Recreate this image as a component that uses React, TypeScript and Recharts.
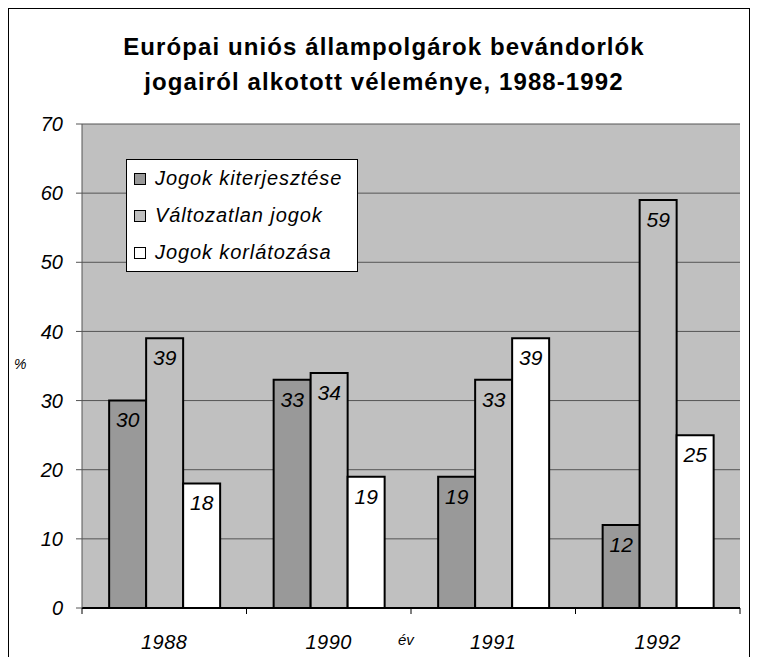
import { BarChart, Bar, XAxis, YAxis, CartesianGrid, Legend, LabelList } from "recharts";

const years = ["1988", "1990", "1991", "1992"];
const kiterjesztes = [30, 33, 19, 12];
const valtozatlan = [39, 34, 33, 59];
const korlatozas = [18, 19, 39, 25];
const yTicks = [0, 10, 20, 30, 40, 50, 60, 70];

const series = [
  { key: "kiterjesztes", name: "Jogok kiterjesztése", fill: "#999999" },
  { key: "valtozatlan", name: "Változatlan jogok", fill: "#c0c0c0" },
  { key: "korlatozas", name: "Jogok korlátozása", fill: "#ffffff" },
];

const data = years.map((y, i) => ({
  year: y,
  kiterjesztes: kiterjesztes[i],
  valtozatlan: valtozatlan[i],
  korlatozas: korlatozas[i],
}));

const FONT = '"Liberation Sans", Arial, sans-serif';

function XTick(props: any) {
  const { x, y, payload, index } = props;
  const half = payload.offset || 0;
  return (
    <g>
      <line x1={x - half} y1={y - 8} x2={x - half} y2={y - 2} stroke="#000" />
      {index === years.length - 1 && (
        <line x1={x + half} y1={y - 8} x2={x + half} y2={y - 2} stroke="#000" />
      )}
      <text x={x} y={y + 33} textAnchor="middle" fontSize={20} fontStyle="italic" fontFamily={FONT} fill="#000" letterSpacing={0.5}>
        {payload.value}
      </text>
    </g>
  );
}

function LegendBox() {
  return (
    <div
      style={{
        width: 232,
        height: 113,
        background: "#fff",
        border: "1px solid #000",
        boxSizing: "border-box",
        padding: "0 0 0 7px",
        fontFamily: FONT,
        fontStyle: "italic",
        fontSize: 20,
        letterSpacing: 0.9,
        textAlign: "left",
      }}
    >
      {series.map((s) => (
        <div key={s.key} style={{ display: "flex", alignItems: "center", height: 37, whiteSpace: "nowrap" }}>
          <span
            style={{
              display: "inline-block",
              width: 10,
              height: 10,
              background: s.fill,
              border: "1.5px solid #000",
              marginRight: 9,
            }}
          />
          {s.name}
        </div>
      ))}
    </div>
  );
}

export default function App() {
  return (
    <div style={{ position: "absolute", left: 0, top: 0, width: 757, height: 657, background: "#fff", overflow: "hidden" }}>
      <div
        style={{
          position: "absolute",
          left: 8,
          top: 8,
          width: 742,
          height: 660,
          border: "1.5px solid #000",
          boxSizing: "border-box",
        }}
      />
      <div
        style={{
          position: "absolute",
          left: 4,
          top: 29,
          width: 760,
          textAlign: "center",
          fontFamily: FONT,
          fontWeight: "bold",
          fontSize: 24,
          letterSpacing: 1.1,
          lineHeight: "35px",
        }}
      >
        Európai uniós állampolgárok bevándorlók
        <br />
        jogairól alkotott véleménye, 1988-1992
      </div>
      <div style={{ position: "absolute", left: 14, top: 356, fontFamily: FONT, fontStyle: "italic", fontSize: 14 }}>%</div>
      <div style={{ position: "absolute", left: 398, top: 631, fontFamily: FONT, fontStyle: "italic", fontSize: 15 }}>év</div>
      <div style={{ position: "absolute", left: 0, top: 0 }}>
        <BarChart
          width={757}
          height={657}
          data={data}
          margin={{ top: 124, right: 17, bottom: 0, left: 0 }}
          barCategoryGap="16.5%"
          barGap={0}
        >
          <CartesianGrid vertical={false} stroke="#555" fill="#c0c0c0" strokeWidth={1} />
          <XAxis
            dataKey="year"
            height={49}
            tickLine={false}
            axisLine={{ stroke: "#000", strokeWidth: 2 }}
            tick={<XTick />}
            interval={0}
          />
          <YAxis
            width={82}
            domain={[0, 70]}
            ticks={yTicks}
            interval={0}
            tickSize={6}
            tickMargin={13}
            axisLine={{ stroke: "#555" }}
            tickLine={{ stroke: "#555" }}
            tick={{ fontSize: 20, fontStyle: "italic", fontFamily: FONT, fill: "#000" }}
          />
          <Legend
            layout="horizontal"
            verticalAlign="middle"
            align="center"
            content={() => <LegendBox />}
            wrapperStyle={{ position: "absolute", left: 126, top: 159, width: 232, height: 113 }}
          />
          {series.map((s) => (
            <Bar key={s.key} dataKey={s.key} name={s.name} fill={s.fill} stroke="#000" strokeWidth={2} isAnimationActive={false}>
              <LabelList
                dataKey={s.key}
                position="insideTop"
                offset={12}
                style={{ fontSize: 21, fontStyle: "italic", fontFamily: FONT, fill: "#000" }}
              />
            </Bar>
          ))}
        </BarChart>
      </div>
    </div>
  );
}
